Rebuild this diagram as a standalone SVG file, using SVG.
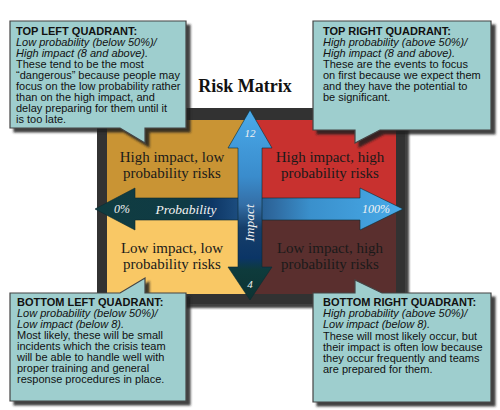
<svg xmlns="http://www.w3.org/2000/svg" width="500" height="410" viewBox="0 0 500 410">
<defs>
  <filter id="sh" x="-10%" y="-10%" width="130%" height="130%">
    <feDropShadow dx="4" dy="4" stdDeviation="1.2" flood-color="#222" flood-opacity="0.85"/>
  </filter>
  <linearGradient id="hg" x1="95" y1="0" x2="403" y2="0" gradientUnits="userSpaceOnUse">
    <stop offset="0" stop-color="#103c40"/>
    <stop offset="0.3" stop-color="#0f3b45"/>
    <stop offset="0.38" stop-color="#0e3766"/>
    <stop offset="0.58" stop-color="#2f6aa0"/>
    <stop offset="0.7" stop-color="#3a90cc"/>
    <stop offset="1" stop-color="#48aae8"/>
  </linearGradient>
  <linearGradient id="vg" x1="0" y1="110" x2="0" y2="300" gradientUnits="userSpaceOnUse">
    <stop offset="0" stop-color="#4aaaea"/>
    <stop offset="0.35" stop-color="#3a8ccc"/>
    <stop offset="0.5" stop-color="#346ea6"/>
    <stop offset="0.62" stop-color="#173f6a"/>
    <stop offset="0.78" stop-color="#0b3566"/>
    <stop offset="0.84" stop-color="#0e3b3c"/>
    <stop offset="1" stop-color="#0d3333"/>
  </linearGradient>
</defs>
<style>
  .call { fill: #9ecece; stroke: #444; stroke-width: 1.2; filter: url(#sh); }
  .ct { font-family: "Liberation Sans", Arial, sans-serif; font-size: 11px; fill: #111; }
  .b { font-weight: bold; }
  .i { font-style: italic; }
  .qt { font-family: "Liberation Serif", "Times New Roman", serif; font-size: 15px; fill: #1a1a1a; text-anchor: middle; }
  .at { font-family: "Liberation Serif", "Times New Roman", serif; font-style: italic; fill: #f2f2f2; text-anchor: middle; }
</style>
<rect width="500" height="410" fill="#ffffff"/>

<text x="245" y="92" font-family="Liberation Serif, Times New Roman, serif" font-weight="bold" font-size="18" text-anchor="middle" fill="#111">Risk Matrix</text>

<g id="matrix">
  <rect x="97" y="108" width="308" height="196" fill="#333" filter="url(#sh)"/>
  <rect x="107" y="120" width="143" height="89" fill="#c99434"/>
  <rect x="250" y="120" width="146" height="89" fill="#c8312f"/>
  <rect x="107" y="209" width="143" height="85" fill="#f9c865"/>
  <rect x="250" y="209" width="146" height="85" fill="#5a2f2e"/>
</g>

<g id="q-tl"><text class="qt" x="172" y="162">High impact, low</text><text class="qt" x="172" y="178">probability risks</text></g>
<g id="q-tr"><text class="qt" x="330" y="162">High impact, high</text><text class="qt" x="330" y="178">probability risks</text></g>
<g id="q-bl"><text class="qt" x="172" y="253">Low impact, low</text><text class="qt" x="172" y="269">probability risks</text></g>
<g id="q-br"><text class="qt" x="330" y="253">Low impact, high</text><text class="qt" x="330" y="269">probability risks</text></g>

<g id="connectors">
  <polygon points="95,209 135,188 135,198 360,198 360,188 403,209 360,230 360,220 135,220 135,230" fill="url(#hg)" stroke="#0a2a30" stroke-width="0.6"/>
  <polygon points="250,110 272,148 262,148 262,267 272,267 250,300 228,267 238,267 238,148 228,148" fill="url(#vg)" stroke="#0a2a30" stroke-width="0.6"/>
  <text class="at" x="122" y="213" font-size="12">0%</text>
  <text class="at" x="186" y="214" font-size="13.5">Probability</text>
  <text class="at" x="376" y="213" font-size="12">100%</text>
  <text class="at" x="250" y="137" font-size="11">12</text>
  <text class="at" x="250" y="288" font-size="11">4</text>
  <text class="at" x="0" y="0" font-size="13.5" transform="translate(254,223) rotate(-90)">Impact</text>
</g>

<g id="callout-tl">
  <path class="call" d="M10,21 H186 V128 H145 V143 L120,128 H10 Z"/>
  <text class="ct b" x="16" y="35">TOP LEFT QUADRANT:</text>
  <text class="ct i" x="16" y="46">Low probability (below 50%)/</text>
  <text class="ct i" x="16" y="57">High impact (8 and above).</text>
  <text class="ct" x="16" y="68">These tend to be the most</text>
  <text class="ct" x="16" y="79">“dangerous” because people may</text>
  <text class="ct" x="16" y="90">focus on the low probability rather</text>
  <text class="ct" x="16" y="101">than on the high impact, and</text>
  <text class="ct" x="16" y="112">delay preparing for them until it</text>
  <text class="ct" x="16" y="123">is too late.</text>
</g>

<g id="callout-tr">
  <path class="call" d="M313,21 H491 V130 H380 L355,143 V130 H313 Z"/>
  <text class="ct b" x="323" y="35">TOP RIGHT QUADRANT:</text>
  <text class="ct i" x="323" y="46">High probability (above 50%)/</text>
  <text class="ct i" x="323" y="57">High impact (8 and above).</text>
  <text class="ct" x="323" y="68">These are the events to focus</text>
  <text class="ct" x="323" y="79">on first because we expect them</text>
  <text class="ct" x="323" y="90">and they have the potential to</text>
  <text class="ct" x="323" y="101">be significant.</text>
</g>

<g id="callout-bl">
  <path class="call" d="M10,293 H120 L145,278 V293 H186 V401 H10 Z"/>
  <text class="ct b" x="17" y="306">BOTTOM LEFT QUADRANT:</text>
  <text class="ct i" x="17" y="317">Low probability (below 50%)/</text>
  <text class="ct i" x="17" y="328">Low impact (below 8).</text>
  <text class="ct" x="17" y="339">Most likely, these will be small</text>
  <text class="ct" x="17" y="350">incidents which the crisis team</text>
  <text class="ct" x="17" y="361">will be able to handle well with</text>
  <text class="ct" x="17" y="372">proper training and general</text>
  <text class="ct" x="17" y="383">response procedures in place.</text>
</g>

<g id="callout-br">
  <path class="call" d="M313,293 H355 V280 L382,293 H491 V402 H313 Z"/>
  <text class="ct b" x="323" y="306">BOTTOM RIGHT QUADRANT:</text>
  <text class="ct i" x="323" y="317">High probability (above 50%)/</text>
  <text class="ct i" x="323" y="328">Low impact (below 8).</text>
  <text class="ct" x="323" y="340">These will most likely occur, but</text>
  <text class="ct" x="323" y="351">their impact is often low because</text>
  <text class="ct" x="323" y="362">they occur frequently and teams</text>
  <text class="ct" x="323" y="373">are prepared for them.</text>
</g>
</svg>
